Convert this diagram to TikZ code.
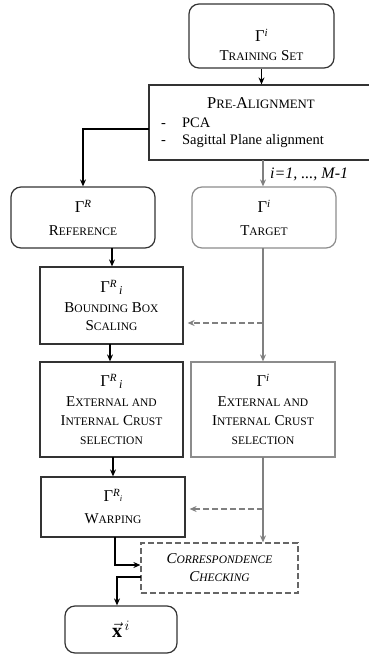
\documentclass[tikz,border=0pt]{standalone}
\usepackage{fontspec}
\setmainfont{Liberation Serif}
\usetikzlibrary{arrows.meta,calc}
\newcommand\scw[2]{{\fontsize{15}{15}\selectfont #1}{\fontsize{11.5}{11.5}\selectfont #2}}
\newcommand\scwt[2]{{\fontsize{16.5}{16.5}\selectfont #1}{\fontsize{12.8}{12.8}\selectfont #2}}
\newcommand\gam[1]{{\fontsize{16.5}{16.5}\selectfont Γ}\raisebox{5pt}{\fontsize{11}{11}\selectfont\itshape #1}}
\newcommand\gamri{{\fontsize{16.5}{16.5}\selectfont Γ}\raisebox{5pt}{\fontsize{11}{11}\selectfont\itshape R}\,\raisebox{-2pt}{\fontsize{12}{12}\selectfont\itshape i}}
\newcommand\gamrsub{{\fontsize{16.5}{16.5}\selectfont Γ}\raisebox{5pt}{\fontsize{11}{11}\selectfont\itshape R\raisebox{-4.5pt}{\fontsize{8.5}{8.5}\selectfont i}}}
\begin{document}
\begin{tikzpicture}[x=1pt,y=-1pt,
  box/.style={draw=black!80,line width=1.2pt,minimum width=#1,inner sep=0pt,align=center,
    font=\fontsize{15}{19}\selectfont},
  rbox/.style={box=#1,rounded corners=10pt},
  gbox/.style={box=#1,draw=black!45},
  blk/.style={line width=1.8pt,-{Stealth[length=7pt,width=6pt]}},
  gry/.style={line width=1.4pt,draw=black!50,-{Stealth[length=7pt,width=6pt]}},
  gdash/.style={gry,dashed,dash pattern=on 6pt off 3pt}]
\useasboundingbox (0,0) rectangle (368,654);
% boxes
\node[rbox=145pt,minimum height=64pt] (train) at (261.5,36) {\rule{0pt}{30pt}\gam{i}\\[0pt]\scw{T}{RAINING} \scw{S}{ET}};
\node[box=223pt,minimum height=75pt] (pre) at (260.5,122.5) {};
\node[anchor=base,inner sep=0pt] (pretitle) at (261,108) {\scwt{P}{RE}-\scwt{A}{LIGNMENT}};
\node[anchor=base west,inner sep=0pt,font=\fontsize{14.5}{14.5}\selectfont] (pca) at (161,127) {-\hspace{16pt}PCA};
\node[anchor=base west,inner sep=0pt,font=\fontsize{14.5}{14.5}\selectfont] (sag) at (161,144) {-\hspace{16pt}Sagittal Plane alignment};
\node[rbox=144pt,minimum height=61pt] (ref) at (83,217.5) {\gam{R}\\[4pt]\scw{R}{EFERENCE}};
\node[rbox=144pt,minimum height=61pt,draw=black!45] (tgt) at (264,217.5) {\gam{i}\\[4pt]\scw{T}{ARGET}};
\node[box=143pt,minimum height=77pt] (bb) at (111.5,305.5) {\gamri\\[1pt]\scw{B}{OUNDING} \scw{B}{OX}\\[-1pt]\scw{S}{CALING}};
\node[box=143pt,minimum height=95pt] (extl) at (111.5,409.5) {\gamri\\[1pt]\scw{E}{XTERNAL AND}\\\scw{I}{NTERNAL} \scw{C}{RUST}\\{\fontsize{11.5}{11.5}\selectfont SELECTION}};
\node[gbox=144pt,minimum height=95pt] (extr) at (263,409.5) {\gam{i}\\[1pt]\scw{E}{XTERNAL AND}\\\scw{I}{NTERNAL} \scw{C}{RUST}\\{\fontsize{11.5}{11.5}\selectfont SELECTION}};
\node[box=144pt,minimum height=60pt] (warp) at (113,507) {\gamrsub\\[3pt]\scw{W}{ARPING}};
\node[box=157pt,minimum height=50pt,dashed,dash pattern=on 6pt off 3pt,draw=black!60] (corr) at (219.5,568) {\itshape\scw{C}{ORRESPONDENCE}\\[-1pt]\itshape\scw{C}{HECKING}};
\node[rbox=112pt,minimum height=47pt] (xv) at (121,629.5) {\fontsize{20}{22}\selectfont$\vec{\mathbf{x}}^{\,i}$};
\node[anchor=base west,inner sep=0pt,font=\fontsize{16}{16}\selectfont\itshape] (lab) at (270,178) {i=1, ..., M-1};
% connectors
\draw[blk] (train.south) -- (train.south |- pre.north);
\coordinate (p1) at (149,129);
\draw[blk] (p1) -- (ref.north |- p1) -- (ref.north);
\coordinate (g0) at (263,160);
\draw[gry] (g0) -- (g0 |- tgt.north);
\coordinate (r1) at (112,248);
\draw[blk] (r1) -- (r1 |- bb.north);
\coordinate (b1) at (110,344);
\draw[blk] (b1) -- (b1 |- extl.north);
\coordinate (t1) at (263,248);
\draw[gry] (t1) -- (t1 |- extr.north);
\coordinate (d1) at (263,323);
\draw[gdash] (d1) -- ($(bb.east |- d1)+(4,0)$);
\coordinate (e1) at (113,457);
\draw[blk] (e1) -- (e1 |- warp.north);
\coordinate (t2) at (263,457);
\draw[gry] (t2) -- (t2 |- corr.north);
\coordinate (d2) at (263,509);
\draw[gdash] (d2) -- ($(warp.east |- d2)+(4,0)$);
\coordinate (w1) at (115,537);
\coordinate (w2) at (115,565);
\draw[blk] (w1) -- (w2) -- (corr.west |- w2);
\coordinate (c1) at (141,577);
\coordinate (c2) at (117,577);
\draw[blk] (c1) -- (c2) -- (c2 |- xv.north);
\end{tikzpicture}
\end{document}
